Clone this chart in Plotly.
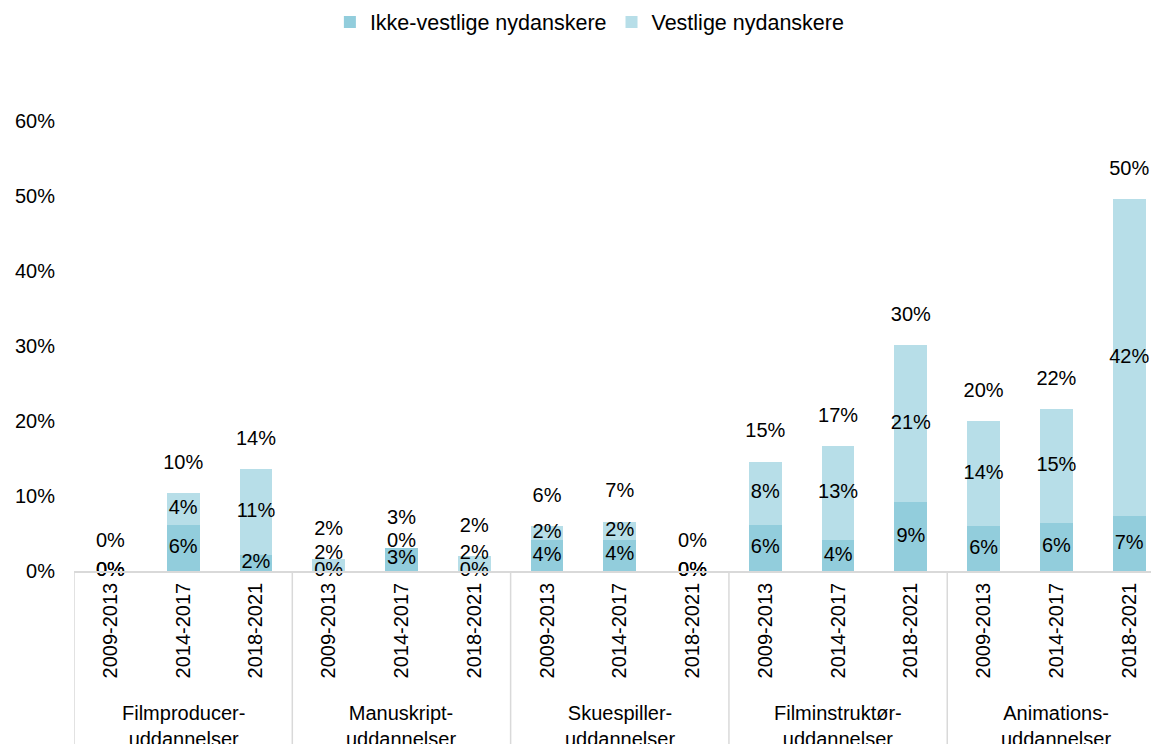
import plotly.graph_objects as go

groups = ["Filmproducer-<br>uddannelser", "Manuskript-<br>uddannelser", "Skuespiller-<br>uddannelser",
          "Filminstruktør-<br>uddannelser", "Animations-<br>uddannelser"]
periods = ["2009-2013", "2014-2017", "2018-2021"]

ikke_vestlige = [0.0, 6.1, 2.2, 0.0, 3.1, 0.0, 4.1, 4.2, 0.0, 6.2, 4.1, 9.2, 6.0, 6.4, 7.3]
vestlige = [0.0, 4.3, 11.4, 1.6, 0.0, 2.0, 1.9, 2.4, 0.0, 8.4, 12.6, 20.9, 14.0, 15.2, 42.3]

C_DARK = "#92CDDC"
C_LIGHT = "#B7DEE8"
FONT = "Liberation Sans, Arial, sans-serif"
FS = 20

n = len(ikke_vestlige)
xs = list(range(n))
ticktext = [p for _ in groups for p in periods]
totals = [a + b for a, b in zip(ikke_vestlige, vestlige)]

PX_PER_UNIT = 450 / 60.0
MIN_SEP = 17 / PX_PER_UNIT  # minimal label separation (data units)


def pct(v):
    return f"{int(v + 0.5)}%"


low_y = [v / 2 for v in ikke_vestlige]
up_y = []
for a, b, ly in zip(ikke_vestlige, vestlige, low_y):
    y = a + b / 2
    if (a + b) > 0 and y - ly < MIN_SEP:
        y = ly + MIN_SEP
    up_y.append(y)

fig = go.Figure()
fig.add_trace(go.Bar(x=xs, y=ikke_vestlige, name="Ikke-vestlige nydanskere",
                     marker=dict(color=C_DARK, line=dict(width=0)), width=0.45))
fig.add_trace(go.Bar(x=xs, y=vestlige, name="Vestlige nydanskere",
                     marker=dict(color=C_LIGHT, line=dict(width=0)), width=0.45))

tf = dict(family=FONT, size=FS, color="#000")
fig.add_trace(go.Scatter(x=xs, y=low_y, mode="text", text=[pct(v) for v in ikke_vestlige],
                         showlegend=False, textfont=tf, cliponaxis=False, hoverinfo="skip"))
fig.add_trace(go.Scatter(x=xs, y=up_y, mode="text", text=[pct(v) for v in vestlige],
                         showlegend=False, textfont=tf, cliponaxis=False, hoverinfo="skip"))
fig.add_trace(go.Scatter(x=xs, y=[t + 3.9 for t in totals], mode="text",
                         text=[pct(t) for t in totals], showlegend=False,
                         textfont=tf, cliponaxis=False, hoverinfo="skip"))

shapes = []
for k in range(len(groups)):
    b = k * 3 - 0.5
    shapes.append(dict(type="line", xref="x", yref="paper", x0=b, x1=b, y0=0, y1=-0.45,
                       line=dict(color="#D9D9D9", width=1.5)))

annotations = []
for k, g in enumerate(groups):
    annotations.append(dict(x=k * 3 + 1, y=-0.287, xref="x", yref="paper", text=g,
                            showarrow=False, yanchor="top", xanchor="center",
                            font=dict(family=FONT, size=FS, color="#000")))

fig.update_layout(
    width=1151, height=744,
    margin=dict(l=74, r=0, t=121, b=173, autoexpand=False),
    barmode="stack",
    bargap=0,
    plot_bgcolor="white", paper_bgcolor="white",
    font=dict(family=FONT, size=FS, color="#000"),
    legend=dict(orientation="h", x=0.479, xanchor="center", y=1.22, yanchor="middle",
                font=dict(family=FONT, size=21.5, color="#000"), traceorder="normal"),
    shapes=shapes,
    annotations=annotations,
    xaxis=dict(range=[-0.5, 14.3], tickmode="array", tickvals=xs, ticktext=ticktext,
               tickangle=-90, showgrid=False, zeroline=False, showline=True,
               linecolor="#D9D9D9", linewidth=1.5, ticks="", ticklabelstandoff=2,
               automargin=False, tickfont=dict(family=FONT, size=FS, color="#000")),
    yaxis=dict(range=[0, 60], tickmode="linear", tick0=0, dtick=10, ticksuffix="%",
               showgrid=False, zeroline=False, showline=False, ticks="", automargin=False,
               ticklabelstandoff=18, tickfont=dict(family=FONT, size=FS, color="#000")),
)

fig.write_html("out.html", config={"displayModeBar": False},
               post_script="document.body.style.margin='0';document.body.style.overflow='hidden';")
